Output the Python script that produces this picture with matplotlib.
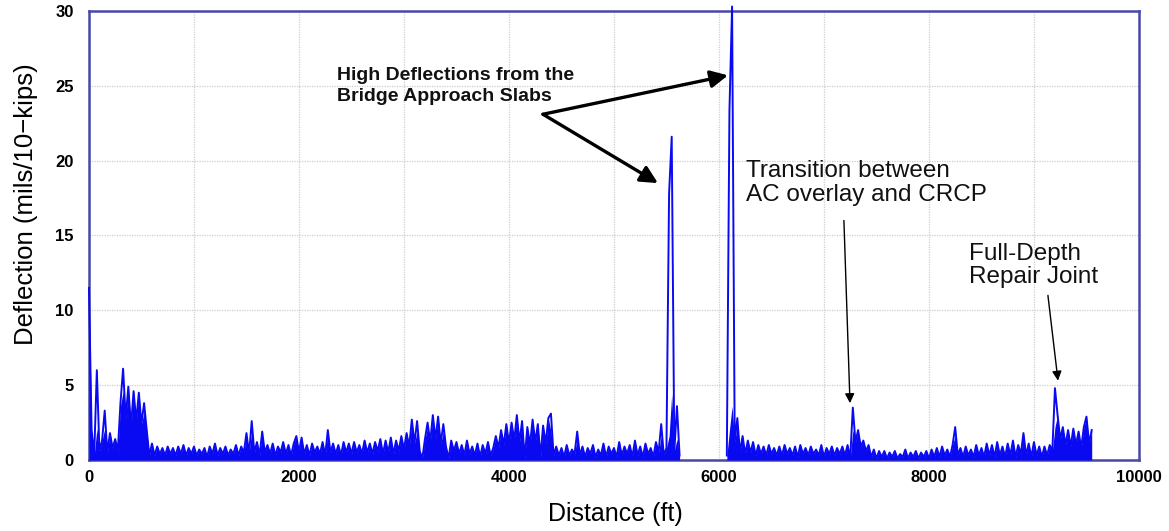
import matplotlib as mpl
mpl.use('Agg')
import matplotlib.pyplot as plt
import numpy as np
from numpy.lib.stride_tricks import sliding_window_view

plt.rcParams['font.family'] = ['Liberation Sans', 'DejaVu Sans']

# FWD deflection readings, one every 25 ft, west of the bridge
west_start_ft = 0
west_step_ft = 25
west_defl = [
    11.5, 2.0, 0.3, 6.0, 0.6, 1.3, 3.3, 0.5, 1.8, 0.8,
    1.4, 0.6, 3.8, 6.1, 2.8, 4.9, 2.2, 4.6, 2.6, 4.5,
    2.4, 3.8, 2.0, 0.3, 1.1, 0.3, 0.9, 0.4, 0.8, 0.3,
    0.9, 0.4, 0.8, 0.3, 0.9, 0.4, 1.0, 0.3, 0.8, 0.4,
    0.9, 0.3, 0.7, 0.4, 0.8, 0.2, 0.9, 0.4, 1.1, 0.3,
    0.8, 0.4, 0.9, 0.3, 0.7, 0.4, 1.0, 0.3, 0.9, 0.5,
    1.8, 0.4, 2.6, 0.5, 1.2, 0.3, 1.9, 0.5, 1.0, 0.4,
    1.1, 0.3, 0.9, 0.5, 1.2, 0.4, 1.0, 0.3, 1.1, 1.6,
    0.5, 1.5, 0.4, 1.0, 0.3, 1.1, 0.5, 0.9, 0.4, 1.2,
    0.3, 2.0, 0.5, 1.1, 0.4, 1.0, 0.3, 1.2, 0.5, 1.1,
    0.4, 1.2, 0.5, 1.0, 0.4, 1.3, 0.5, 1.1, 0.4, 1.2,
    0.6, 1.4, 0.4, 1.3, 0.5, 1.5, 0.4, 1.3, 0.6, 1.6,
    0.7, 1.8, 0.9, 2.7, 1.1, 2.6, 0.6, 0.1, 1.4, 2.5,
    1.2, 3.0, 1.4, 2.9, 1.1, 2.4, 0.9, 0.1, 1.3, 0.6,
    1.2, 0.4, 1.0, 0.3, 1.3, 0.4, 0.9, 0.3, 1.1, 0.2,
    1.0, 0.4, 1.2, 0.3, 0.8, 1.6, 0.8, 2.0, 1.0, 2.4,
    1.1, 2.5, 1.3, 3.0, 1.2, 2.6, 0.1, 2.2, 1.0, 2.7,
    1.2, 2.4, 0.2, 2.3, 1.1, 2.8, 3.1, 0.3, 0.9, 0.3,
    0.8, 0.2, 1.0, 0.3, 0.7, 0.4, 1.9, 0.3, 0.9, 0.2,
    0.8, 0.4, 1.0, 0.2, 0.7, 0.3, 1.1, 0.2, 0.9, 0.4,
    0.8, 0.2, 1.2, 0.3, 0.9, 0.4, 1.0, 0.2, 1.3, 0.3,
    0.9, 0.2, 1.1, 0.4, 0.8, 0.2, 1.2, 0.5, 2.4, 0.3,
    0.8, 17.8, 21.6, 0.6, 3.6, 0.3,
]

# readings east of the bridge
east_start_ft = 6075
east_step_ft = 25
east_defl = [
    0.3, 23.4, 30.3, 1.2, 2.8, 0.5, 1.6, 0.4, 1.3, 0.5,
    1.2, 0.3, 1.0, 0.4, 0.9, 0.3, 1.0, 0.4, 0.8, 0.3,
    0.9, 0.3, 1.0, 0.4, 0.8, 0.3, 0.9, 0.2, 1.0, 0.4,
    0.8, 0.3, 0.9, 0.4, 0.7, 0.3, 1.0, 0.2, 0.8, 0.4,
    0.9, 0.3, 0.8, 0.4, 0.9, 0.3, 1.0, 0.1, 3.5, 1.2,
    2.0, 0.9, 1.3, 0.6, 1.0, 0.2, 0.7, 0.1, 0.6, 0.2,
    0.6, 0.1, 0.5, 0.2, 0.6, 0.1, 0.4, 0.2, 0.7, 0.1,
    0.5, 0.2, 0.6, 0.1, 0.5, 0.2, 0.6, 0.1, 0.7, 0.2,
    0.8, 0.2, 0.9, 0.3, 0.7, 0.2, 1.0, 2.2, 0.3, 0.8,
    0.2, 0.9, 0.3, 0.7, 0.2, 1.0, 0.3, 0.8, 0.2, 1.1,
    0.3, 1.0, 0.2, 1.2, 0.3, 0.9, 0.2, 1.1, 0.3, 1.3,
    0.2, 1.0, 0.4, 1.8, 0.3, 1.1, 0.2, 1.2, 0.3, 0.9,
    0.2, 0.9, 0.3, 1.0, 0.6, 4.8, 3.0, 1.4, 2.2, 1.0,
    2.0, 0.9, 2.1, 1.0, 1.9, 0.8, 2.2, 2.9, 1.1, 2.0,
]

x_ticks = np.arange(0, 10001, 1000)
x_tick_labels = ['0', '', '2000', '', '4000', '', '6000', '', '8000', '',
                 '10000']
y_ticks = [0, 5, 10, 15, 20, 25, 30]

line_colour = '#0a0af2'
frame_colour = '#4848a8'


def stations(start, step, values):
    return start + step * np.arange(len(values))


def plot_profile(ax, start, step, values):
    dist = stations(start, step, values)
    vals = np.asarray(values)
    # the trace is so dense that it reads as a solid band; fill under it,
    # but let isolated spikes well above the running median stay thin
    padded = np.pad(vals, 2, mode='edge')
    level = np.median(sliding_window_view(padded, 5), axis=1) + 0.8
    ax.fill_between(dist, np.minimum(vals, level), 0, color=line_colour,
                    lw=0, zorder=3)
    ax.plot(dist, vals, color=line_colour, lw=1.4, zorder=3,
            clip_on=False)


def add_arrow(ax, tail, head, lw, scale):
    ax.annotate('', xy=head, xytext=tail,
                arrowprops=dict(arrowstyle='-|>', color='black', lw=lw,
                                mutation_scale=scale, shrinkA=0, shrinkB=0))


fig = plt.figure(figsize=(11.69, 5.31), dpi=100)
ax = fig.add_axes([0.0761, 0.1337, 0.8982, 0.8456])

plot_profile(ax, west_start_ft, west_step_ft, west_defl)
plot_profile(ax, east_start_ft, east_step_ft, east_defl)

ax.set_xlim(0, 10000)
ax.set_ylim(0, 30)
ax.set_xticks(x_ticks)
ax.set_xticklabels(x_tick_labels)
ax.set_yticks(y_ticks)
ax.tick_params(axis='both', length=0, labelsize=12)
ax.tick_params(axis='x', pad=7)
ax.tick_params(axis='y', pad=11)
for label in ax.get_xticklabels() + ax.get_yticklabels():
    label.set_fontweight('bold')

ax.grid(True, color='#cfcfcf', linestyle=(0, (1, 1)), linewidth=0.9)
ax.set_axisbelow(True)
for spine in ax.spines.values():
    spine.set_color(frame_colour)
    spine.set_linewidth(1.8)

ax.set_xlabel('Distance (ft)', fontsize=18)
ax.xaxis.set_label_coords(0.501, -0.094)
ax.set_ylabel('Deflection (mils/10\u2212kips)', fontsize=18.5)
ax.yaxis.set_label_coords(-0.049, 0.57)

# callouts
ax.text(2362, 25.0, 'High Deflections from the\nBridge Approach Slabs',
        fontsize=14, fontweight='bold', ha='left', va='center',
        linespacing=1.35, color='#111111')
add_arrow(ax, (4324, 23.1), (5419, 18.5), 2.4, 26)
add_arrow(ax, (4324, 23.1), (6086, 25.7), 2.4, 26)

ax.text(6257, 18.5, 'Transition between\nAC overlay and CRCP',
        fontsize=17.5, ha='left', va='center', linespacing=1.1,
        color='#111111')
add_arrow(ax, (7190, 16.0), (7248, 3.8), 1.0, 14)

ax.text(8381, 13.0, 'Full-Depth\nRepair Joint',
        fontsize=17.5, ha='left', va='center', linespacing=1.1,
        color='#111111')
add_arrow(ax, (9133, 11.0), (9229, 5.3), 1.0, 14)

fig.savefig('out.png', dpi=100)
plt.close()
